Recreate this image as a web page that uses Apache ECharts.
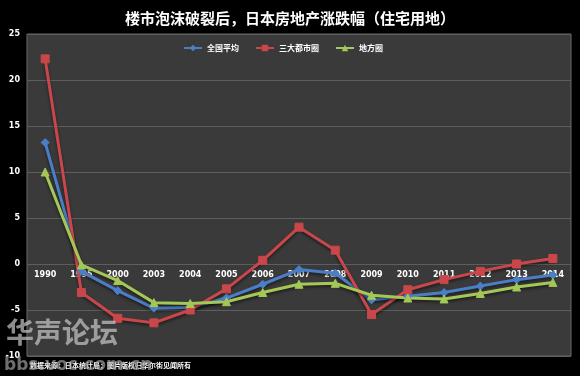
<!DOCTYPE html>
<html>
<head>
<meta charset="utf-8">
<script src="https://cdn.jsdelivr.net/npm/echarts@6/dist/echarts.min.js"></script>
<style>
html, body { margin: 0; padding: 0; background: #000; }
#chart_land { width: 580px; height: 376px; }
</style>
</head>
<body>
<div id="chart_land"></div>
<script>
// 楼市泡沫破裂后 日本住宅用地涨跌幅
var years = ['1990', '1995', '2000', '2003', '2004', '2005', '2006', '2007', '2008', '2009', '2010', '2011', '2012', '2013', '2014'];
var nationalAvg = [13.2, -0.8, -2.9, -4.8, -4.7, -3.7, -2.2, -0.6, -1.0, -3.9, -3.5, -3.1, -2.4, -1.7, -1.2];
var threeMetro = [22.3, -3.1, -5.9, -6.4, -5.0, -2.7, 0.4, 4.0, 1.5, -5.5, -2.8, -1.7, -0.8, 0.0, 0.6];
var localArea = [10.0, -0.1, -1.8, -4.2, -4.3, -4.1, -3.1, -2.2, -2.1, -3.4, -3.7, -3.8, -3.2, -2.5, -2.0];
var yTicks = [-10, -5, 0, 5, 10, 15, 20, 25];

var chart_land = echarts.init(document.getElementById('chart_land'));

function lineSeries(name, data, color, symbol) {
    return {
        name: name,
        type: 'line',
        data: data,
        symbol: symbol,
        symbolSize: 8,
        showAllSymbol: true,
        lineStyle: { color: color, width: 3, shadowColor: 'rgba(0,0,0,0.5)', shadowBlur: 3, shadowOffsetY: 2 },
        itemStyle: { color: color, borderColor: color },
        z: 3
    };
}

// 网格高度 322px, 35 个单位, 0 在底部以上 10 个单位
var gridTop = 34, gridBottom = 20;
var zeroOffset = (376 - gridTop - gridBottom) / (yTicks[yTicks.length - 1] - yTicks[0]) * (0 - yTicks[0]);

var chart_land_option = {
    backgroundColor: '#000',
    animation: false,
    title: {
        text: '楼市泡沫破裂后，日本房地产涨跌幅（住宅用地）',
        left: 'center',
        top: 6,
        textStyle: {
            color: '#fff',
            fontSize: 15,
            fontWeight: 'bold',
            fontFamily: 'Noto Sans CJK SC'
        }
    },
    legend: {
        top: 39,
        left: 178,
        itemWidth: 18,
        itemHeight: 8,
        itemGap: 16,
        textStyle: { color: '#fff', fontSize: 8, fontWeight: 'bold', fontFamily: 'Noto Sans CJK SC' },
        data: ['全国平均', '三大都市圈', '地方圈']
    },
    grid: {
        left: 27,
        right: 9,
        top: gridTop,
        bottom: gridBottom,
        show: true,
        backgroundColor: '#3a3a3a',
        borderColor: '#6a6a6a',
        borderWidth: 1
    },
    xAxis: {
        type: 'category',
        data: years,
        position: 'bottom',
        offset: -zeroOffset,
        axisLine: { show: false, onZero: false },
        axisTick: { show: false },
        axisLabel: { color: '#fff', fontSize: 8, fontWeight: 'bold', margin: 7, fontFamily: 'DejaVu Sans' }
    },
    yAxis: {
        type: 'value',
        min: yTicks[0],
        max: yTicks[yTicks.length - 1],
        interval: 5,
        axisLine: { show: false },
        axisTick: { show: false },
        axisLabel: { color: '#fff', fontSize: 8, fontWeight: 'bold', margin: 7, fontFamily: 'DejaVu Sans' },
        splitLine: { lineStyle: { color: '#5e5e5e', width: 1 } }
    },
    series: [
        lineSeries('全国平均', nationalAvg, '#4a7fc8', 'diamond'),
        lineSeries('三大都市圈', threeMetro, '#c9474a', 'rect'),
        lineSeries('地方圈', localArea, '#a4c857', 'triangle')
    ],
    graphic: [
        {
            type: 'text',
            left: 30,
            top: 362,
            style: {
                text: '数据来源：日本统计局；图片版权归华尔街见闻所有',
                fill: '#fff',
                font: 'bold 7px "Noto Sans CJK SC"'
            }
        },
        {
            type: 'text',
            left: 6,
            top: 318,
            z: 10,
            style: {
                text: '华声论坛',
                fill: 'rgba(200,200,200,0.7)',
                font: 'bold 28px "Noto Sans CJK SC"'
            }
        },
        {
            type: 'text',
            left: 4,
            top: 357,
            z: 10,
            style: {
                text: 'bbs.voc.com.cn',
                fill: 'rgba(170,170,170,0.65)',
                font: 'bold 17px "DejaVu Sans"'
            }
        }
    ]
};
chart_land.setOption(chart_land_option);
</script>
</body>
</html>
